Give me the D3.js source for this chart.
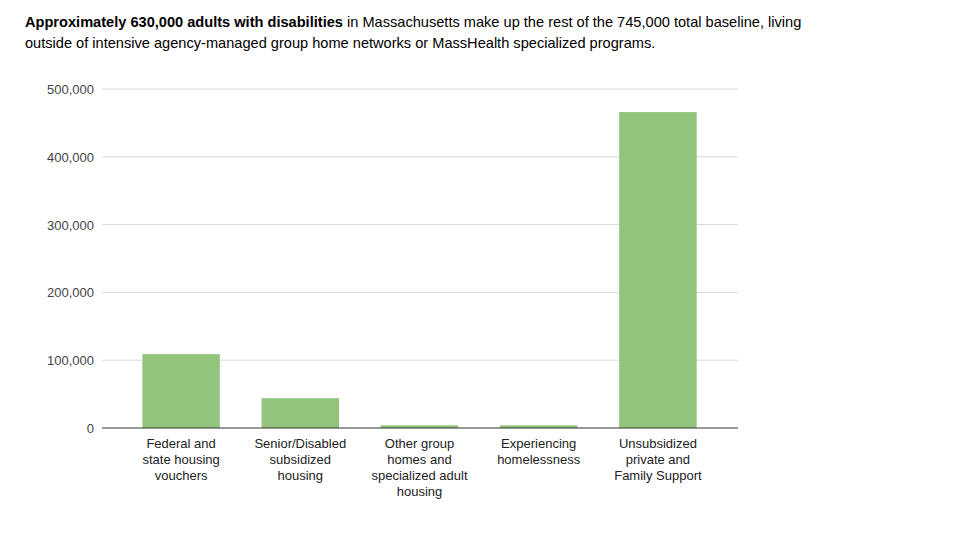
<!DOCTYPE html>
<html><head><meta charset="utf-8">
<script src="https://cdn.jsdelivr.net/npm/d3@7"></script>
<style>body{margin:0;background:#fff;font-family:"Liberation Sans",Arial,sans-serif}</style>
</head><body><svg width="960" height="540"></svg>
<script>
var categories = [
  ["Federal and", "state housing", "vouchers"],
  ["Senior/Disabled", "subsidized", "housing"],
  ["Other group", "homes and", "specialized adult", "housing"],
  ["Experiencing", "homelessness"],
  ["Unsubsidized", "private and", "Family Support"]
];
var values = [109000, 44000, 4000, 4000, 466000];
var yTicks = [0, 100000, 200000, 300000, 400000, 500000];

var svg = d3.select("svg");

var title = svg.append("text").attr("x", 25).attr("y", 27).attr("font-size", 14.6).attr("fill", "#000");
title.append("tspan").attr("font-weight", "bold").text("Approximately 630,000 adults with disabilities");
title.append("tspan").text(" in Massachusetts make up the rest of the 745,000 total baseline, living");
svg.append("text").attr("x", 25).attr("y", 48).attr("font-size", 14.6)
  .text("outside of intensive agency-managed group home networks or MassHealth specialized programs.");

var x = d3.scaleBand().domain(d3.range(values.length)).range([121.5, 717.5])
  .paddingInner(0.35).paddingOuter(0.175);
var y = d3.scaleLinear().domain([0, 500000]).range([428, 89]);

svg.append("g").selectAll("line").data(yTicks.slice(1)).enter().append("line")
  .attr("x1", 102).attr("x2", 738)
  .attr("y1", d => y(d)).attr("y2", d => y(d))
  .attr("stroke", "#d9d9d9");

svg.append("g").selectAll("text").data(yTicks).enter().append("text")
  .attr("x", 94).attr("y", d => y(d) + 5)
  .attr("text-anchor", "end").attr("font-size", 13).attr("fill", "#444")
  .text(d3.format(","));

svg.append("g").selectAll("rect").data(values).enter().append("rect")
  .attr("x", (d, i) => x(i)).attr("width", x.bandwidth())
  .attr("y", d => y(d)).attr("height", d => y(0) - y(d))
  .attr("fill", "#93c47d");

svg.append("line").attr("x1", 102).attr("x2", 738).attr("y1", y(0)).attr("y2", y(0))
  .attr("stroke", "#333");

categories.forEach(function(lines, i) {
  var t = svg.append("text").attr("text-anchor", "middle").attr("font-size", 13).attr("fill", "#222");
  lines.forEach(function(l, j) {
    t.append("tspan").attr("x", x(i) + x.bandwidth() / 2).attr("y", 448 + j * 16).text(l);
  });
});
</script></body></html>
